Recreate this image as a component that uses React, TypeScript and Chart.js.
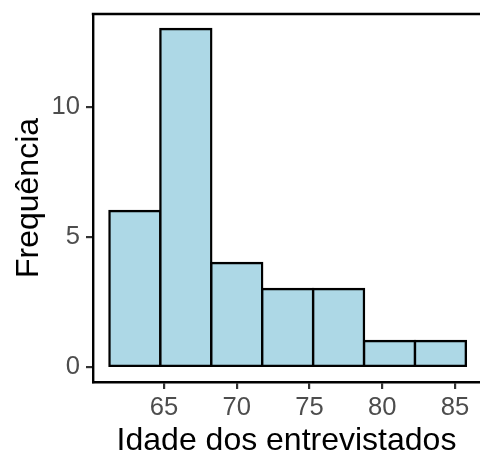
import React, { useEffect, useRef } from "react";
import { Chart, registerables } from "chart.js";

Chart.register(...registerables);

const binCenters = [63, 66.5, 70, 73.5, 77, 80.5, 84];
const frequencies = [6, 13, 4, 3, 3, 1, 1];
const xTicks = [65, 70, 75, 80, 85];
const yTicks = [0, 5, 10];
const xTitle = "Idade dos entrevistados";
const yTitle = "Frequência";

const FONT = "'Liberation Sans', Arial, Helvetica, sans-serif";

const topBorder = {
  id: "topBorder",
  afterDraw(chart: any) {
    const { ctx, chartArea } = chart;
    ctx.save();
    ctx.strokeStyle = "#000000";
    ctx.lineWidth = 2.4;
    ctx.beginPath();
    ctx.moveTo(chartArea.left - 1.2, chartArea.top);
    ctx.lineTo(chartArea.right, chartArea.top);
    ctx.stroke();
    ctx.restore();
  },
};

export default function App() {
  const ref = useRef<HTMLCanvasElement | null>(null);

  useEffect(() => {
    if (!ref.current) return;
    const tickFont = { family: FONT, size: 25.6, lineHeight: 1.2 };
    const gridOpts = {
      display: true,
      offset: false,
      drawOnChartArea: false,
      drawTicks: true,
      tickLength: 7,
      tickColor: "#333333",
      tickWidth: 2.2,
      lineWidth: 2.2,
      color: "#333333",
    };
    const chart = new Chart(ref.current, {
      type: "bar",
      data: {
        datasets: [
          {
            data: binCenters.map((x, i) => ({ x, y: frequencies[i] })),
            backgroundColor: "#ADD8E6",
            borderColor: "#000000",
            borderWidth: 2.4,
            borderSkipped: false,
            inflateAmount: 1.2,
            barPercentage: 1,
            categoryPercentage: 1,
          } as any,
        ],
      },
      options: {
        animation: false,
        responsive: false,
        maintainAspectRatio: false,
        layout: { padding: { top: 14, left: 0, right: 0, bottom: 0 } },
        plugins: { legend: { display: false }, tooltip: { enabled: false } },
        scales: {
          x: {
            type: "linear",
            min: 60.12,
            max: 86.72,
            offset: false,
            afterBuildTicks: (s: any) => {
              s.ticks = xTicks.map((v) => ({ value: v }));
            },
            afterFit: (s: any) => {
              s.height = 71;
              s.paddingLeft = 0;
              s.paddingRight = 0;
            },
            ticks: {
              font: tickFont,
              color: "#4D4D4D",
              padding: 4,
              maxRotation: 0,
              autoSkip: false,
            },
            grid: gridOpts,
            border: { display: true, color: "#000000", width: 2.4 },
            title: {
              display: true,
              text: xTitle,
              color: "#000000",
              font: { family: FONT, size: 32, lineHeight: 0.75 },
              padding: { top: 0, bottom: 0 },
            },
          },
          y: {
            type: "linear",
            min: -0.577,
            max: 13.577,
            afterBuildTicks: (s: any) => {
              s.ticks = yTicks.map((v) => ({ value: v }));
            },
            afterFit: (s: any) => {
              s.width = 93;
              s.paddingTop = 0;
              s.paddingBottom = 0;
            },
            ticks: {
              font: tickFont,
              color: "#4D4D4D",
              padding: 6,
              autoSkip: false,
            },
            grid: gridOpts,
            border: { display: true, color: "#000000", width: 2.4 },
            title: {
              display: true,
              text: yTitle,
              color: "#000000",
              font: { family: FONT, size: 32, lineHeight: 0.875 },
              padding: { top: 15, bottom: 0 },
            },
          },
        },
      } as any,
      plugins: [topBorder],
    });
    return () => chart.destroy();
  }, []);

  return (
    <div style={{ position: "absolute", left: 0, top: 0, width: 480, height: 453, background: "#ffffff" }}>
      <canvas ref={ref} width={480} height={453} style={{ display: "block" }} />
    </div>
  );
}
